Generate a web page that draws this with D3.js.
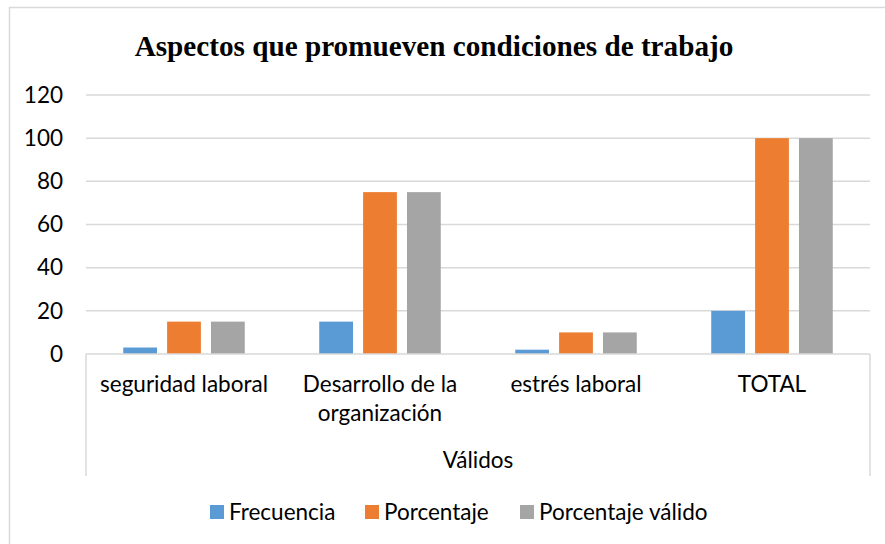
<!DOCTYPE html>
<html>
<head>
<meta charset="utf-8">
<script src="https://cdn.jsdelivr.net/npm/d3@7"></script>
<style>
  body { margin: 0; background: #fff; }
  text { font-family: Lato, "Open Sans", sans-serif; fill: #000; }
</style>
</head>
<body>
<svg id="chart" width="885" height="544"></svg>
<script>
// datos
var categorias = [["seguridad laboral"], ["Desarrollo de la", "organización"], ["estrés laboral"], ["TOTAL"]];
var series = ["Frecuencia", "Porcentaje", "Porcentaje válido"];
var frecuencia = [3, 15, 2, 20];
var porcentaje = [15, 75, 10, 100];
var porcentajeValido = [15, 75, 10, 100];
var yTicks = [0, 20, 40, 60, 80, 100, 120];
var grupo = "Válidos";
var titulo = "Aspectos que promueven condiciones de trabajo";
var colores = ["#5B9BD5", "#ED7D31", "#A5A5A5"];

function main(){
  var valores = [frecuencia, porcentaje, porcentajeValido];
  var data = categorias.map(function(c, i){
    return { cat: c.join(" "), lines: c, vals: valores.map(function(v){ return v[i]; }) };
  });

  var svg = d3.select("#chart");
  var left = 86, right = 870, mTop = 95, bottom = 354;
  var fs = "22.5px";

  // marco
  svg.append("rect")
     .attr("x", 9.5).attr("y", 7.5)
     .attr("width", 900).attr("height", 600)
     .attr("fill", "none").attr("stroke", "#d9d9d9").attr("stroke-width", 1.5);

  var xScale = d3.scaleBand().domain(data.map(function(d){ return d.cat; })).range([left, right]);
  var bw = xScale.bandwidth();
  var gw = bw * 0.62;
  var x1 = d3.scaleBand().domain(series).range([(bw - gw) / 2, (bw + gw) / 2]).paddingInner(0.23);
  var yScale = d3.scaleLinear().domain([0, 120]).range([bottom, mTop]);

  // grid
  svg.append("g").selectAll("line")
     .data(yTicks.filter(function(t){ return t > 0; }))
     .enter().append("line")
     .attr("x1", left).attr("x2", right)
     .attr("y1", function(d){ return yScale(d); })
     .attr("y2", function(d){ return yScale(d); })
     .attr("stroke", "#d9d9d9").attr("stroke-width", 1.5);

  // eje y
  var yAxis = d3.axisLeft(yScale).tickValues(yTicks).tickSize(0).tickPadding(23);
  svg.append("g")
     .attr("class", "y axis")
     .attr("transform", "translate(" + left + ",0)")
     .call(yAxis)
     .call(function(g){ g.select(".domain").remove(); })
     .selectAll("text")
     .style("font-size", fs)
     .style("font-family", "Lato, sans-serif")
     .attr("fill", "#000");

  // barras
  var groups = svg.append("g").selectAll("g")
     .data(data).enter().append("g")
     .attr("transform", function(d){ return "translate(" + xScale(d.cat) + ",0)"; });

  groups.selectAll("rect")
     .data(function(d){ return d.vals.map(function(v, j){ return { s: series[j], v: v, j: j }; }); })
     .enter().append("rect")
     .attr("x", function(d){ return x1(d.s); })
     .attr("width", x1.bandwidth())
     .attr("y", function(d){ return yScale(d.v); })
     .attr("height", function(d){ return yScale(0) - yScale(d.v); })
     .attr("fill", function(d){ return colores[d.j]; });

  // eje x (multinivel)
  var axisColor = "#d9d9d9";
  svg.append("line").attr("x1", left).attr("x2", right).attr("y1", bottom).attr("y2", bottom)
     .attr("stroke", axisColor).attr("stroke-width", 1.5);
  svg.append("line").attr("x1", left).attr("x2", left).attr("y1", bottom).attr("y2", 476)
     .attr("stroke", axisColor).attr("stroke-width", 1.5);
  svg.append("line").attr("x1", right).attr("x2", right).attr("y1", bottom).attr("y2", 476)
     .attr("stroke", axisColor).attr("stroke-width", 1.5);

  var catText = svg.append("g").selectAll("text")
     .data(data).enter().append("text")
     .attr("text-anchor", "middle")
     .attr("x", function(d){ return xScale(d.cat) + bw / 2; })
     .attr("y", 392)
     .style("font-size", fs);
  catText.selectAll("tspan")
     .data(function(d){ return d.lines; })
     .enter().append("tspan")
     .attr("x", function(){ var p = d3.select(this.parentNode).datum(); return xScale(p.cat) + bw / 2; })
     .attr("dy", function(d, i){ return i === 0 ? 0 : 29; })
     .text(function(d){ return d; });

  svg.append("text")
     .attr("text-anchor", "middle")
     .attr("x", (left + right) / 2).attr("y", 468)
     .style("font-size", fs)
     .text(grupo);

  // leyenda
  var legX = [210, 365, 520];
  var leg = svg.append("g").selectAll("g")
     .data(series).enter().append("g")
     .attr("transform", function(d, i){ return "translate(" + legX[i] + ",505)"; });
  leg.append("rect").attr("width", 14).attr("height", 14)
     .attr("fill", function(d, i){ return colores[i]; });
  leg.append("text").attr("x", 19).attr("y", 15)
     .style("font-size", fs)
     .text(function(d){ return d; });

  // titulo
  svg.append("text")
     .attr("x", 434).attr("y", 56)
     .attr("text-anchor", "middle")
     .style("font-family", "'Liberation Serif', 'Times New Roman', serif")
     .style("font-weight", "bold")
     .style("font-size", "29.2px")
     .text(titulo);
}
main();
</script>
</body>
</html>
